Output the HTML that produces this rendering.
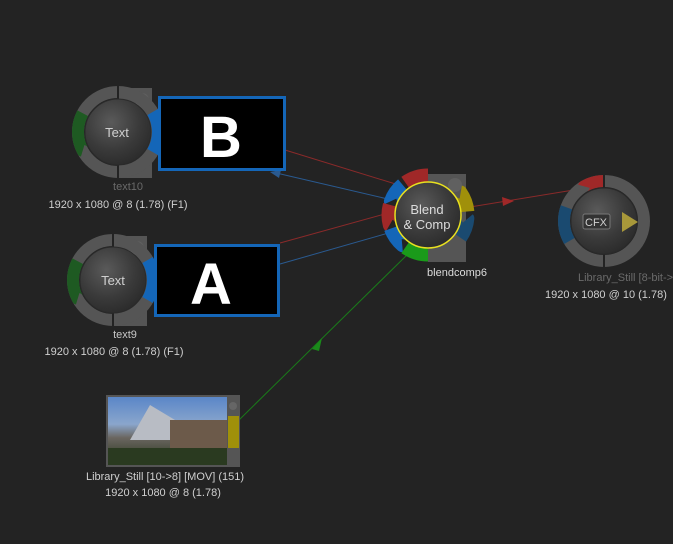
<!DOCTYPE html>
<html><head><style>
body{margin:0;background:#232323;}
svg{display:block;font-family:"Liberation Sans",sans-serif;}
</style></head><body>
<svg width="673" height="544" viewBox="0 0 673 544">
<defs>
<radialGradient id="ball" cx="0.4" cy="0.35" r="0.7">
<stop offset="0" stop-color="#5a5a5a"/><stop offset="0.6" stop-color="#3a3a3a"/><stop offset="1" stop-color="#2a2a2a"/>
</radialGradient>
<linearGradient id="img" x1="0" y1="0" x2="0" y2="1">
<stop offset="0" stop-color="#5a86c8"/><stop offset="0.4" stop-color="#8aa6cc"/><stop offset="0.6" stop-color="#6a6660"/><stop offset="1" stop-color="#243018"/>
</linearGradient>
</defs>
<rect width="673" height="544" fill="#232323"/>

<line x1="285" y1="150" x2="402" y2="186" stroke="#8a2a2a" stroke-width="1"/>
<line x1="392" y1="200" x2="272" y2="172" stroke="#2a5a90" stroke-width="1"/>
<polygon points="270,172 281,170 279,178" fill="#2a5a90"/>
<line x1="280" y1="243" x2="392" y2="212" stroke="#8a2a2a" stroke-width="1"/>
<line x1="280" y1="264" x2="392" y2="232" stroke="#2a5a90" stroke-width="1"/>
<line x1="239" y1="420" x2="410" y2="252" stroke="#1a7a1a" stroke-width="1"/>
<polygon points="322,338 312,349 319,351" fill="#1a8a1a"/>
<line x1="470" y1="207" x2="592" y2="187" stroke="#8a2a2a" stroke-width="1"/>
<polygon points="514,201 502,197 503,206" fill="#a02828"/>

<rect x="118" y="88" width="34" height="90" fill="#555"/>
<circle cx="142" cy="100" r="7" fill="#606060"/>
<g transform="translate(118,132)" fill="none" stroke-width="12">
<circle r="40" pathLength="360" stroke="#555" stroke-dasharray="360 0"/>
<circle r="40" pathLength="360" stroke="#1e5a22" stroke-dasharray="56 304" transform="rotate(152)"/>
<circle r="40" pathLength="360" stroke="#1466b8" stroke-dasharray="60 300" transform="rotate(-30)"/>
<line x1="0" y1="-47" x2="0" y2="-33" stroke="#232323" stroke-width="2"/>
<line x1="0" y1="47" x2="0" y2="33" stroke="#232323" stroke-width="2"/>
<circle r="33" fill="url(#ball)" stroke="#2a2a2a" stroke-width="1"/>
</g>
<text x="117" y="137" fill="#d0d0d0" font-size="13" text-anchor="middle">Text</text>
<rect x="159.5" y="97.5" width="125" height="72" fill="#000" stroke="#1466b8" stroke-width="3"/>
<text x="221" y="157" fill="#fff" font-size="58" font-weight="bold" text-anchor="middle">B</text>
<text x="128" y="190" fill="#6a6a6a" font-size="11" text-anchor="middle">text10</text>
<text x="118" y="208" fill="#cfcfcf" font-size="11" text-anchor="middle">1920 x 1080 @ 8 (1.78) (F1)</text>

<rect x="113" y="236" width="34" height="90" fill="#555"/>
<circle cx="137" cy="248" r="7" fill="#606060"/>
<g transform="translate(113,280)" fill="none" stroke-width="12">
<circle r="40" pathLength="360" stroke="#555" stroke-dasharray="360 0"/>
<circle r="40" pathLength="360" stroke="#1e5a22" stroke-dasharray="56 304" transform="rotate(152)"/>
<circle r="40" pathLength="360" stroke="#1466b8" stroke-dasharray="60 300" transform="rotate(-30)"/>
<line x1="0" y1="-47" x2="0" y2="-33" stroke="#232323" stroke-width="2"/>
<line x1="0" y1="47" x2="0" y2="33" stroke="#232323" stroke-width="2"/>
<circle r="33" fill="url(#ball)" stroke="#2a2a2a" stroke-width="1"/>
</g>
<text x="113" y="285" fill="#d0d0d0" font-size="13" text-anchor="middle">Text</text>
<rect x="155.5" y="245.5" width="123" height="70" fill="#000" stroke="#1466b8" stroke-width="3"/>
<text x="211" y="304" fill="#fff" font-size="58" font-weight="bold" text-anchor="middle">A</text>
<text x="125" y="338" fill="#c8c8c8" font-size="11" text-anchor="middle">text9</text>
<text x="114" y="355" fill="#cfcfcf" font-size="11" text-anchor="middle">1920 x 1080 @ 8 (1.78) (F1)</text>

<rect x="428" y="174" width="38" height="88" fill="#555"/>
<circle cx="455" cy="185" r="7" fill="#606060"/>
<g transform="translate(428,215)" fill="none" stroke-width="13">
<circle r="40" pathLength="360" stroke="#a02828" stroke-dasharray="35 325" transform="rotate(235)"/>
<circle r="40" pathLength="360" stroke="#1466b8" stroke-dasharray="30 330" transform="rotate(200)"/>
<circle r="40" pathLength="360" stroke="#a02828" stroke-dasharray="30 330" transform="rotate(165)"/>
<circle r="40" pathLength="360" stroke="#1466b8" stroke-dasharray="30 330" transform="rotate(130)"/>
<circle r="40" pathLength="360" stroke="#1a9a1a" stroke-dasharray="35 325" transform="rotate(90)"/>
<circle r="40" pathLength="360" stroke="#a0900a" stroke-dasharray="30 330" transform="rotate(-35)"/>
<circle r="40" pathLength="360" stroke="#1a4a70" stroke-dasharray="30 330" transform="rotate(5)"/>
<circle r="33" fill="url(#ball)" stroke="#e8e020" stroke-width="1.5"/>
</g>
<text x="427" y="214" fill="#dcdcdc" font-size="13" text-anchor="middle">Blend</text>
<text x="427" y="229" fill="#dcdcdc" font-size="13" text-anchor="middle">&amp; Comp</text>
<text x="457" y="276" fill="#dcdcdc" font-size="11" text-anchor="middle">blendcomp6</text>

<g transform="translate(604,221)" fill="none" stroke-width="12">
<circle r="40" pathLength="360" stroke="#555" stroke-dasharray="360 0"/>
<circle r="40" pathLength="360" stroke="#a02828" stroke-dasharray="30 330" transform="rotate(240)"/>
<circle r="40" pathLength="360" stroke="#1a4a70" stroke-dasharray="50 310" transform="rotate(150)"/>
<line x1="0" y1="-47" x2="0" y2="-33" stroke="#232323" stroke-width="2"/>
<line x1="0" y1="47" x2="0" y2="33" stroke="#232323" stroke-width="2"/>
<circle r="33" fill="url(#ball)" stroke="#2a2a2a" stroke-width="1"/>
</g>
<rect x="583" y="214" width="27" height="15" rx="2" fill="#333" stroke="#777" stroke-width="1"/>
<text x="596" y="226" fill="#cfcfcf" font-size="11" text-anchor="middle">CFX</text>
<polygon points="622,212 622,232 638,222" fill="#a8983a"/>
<text x="578" y="281" fill="#6a6a6a" font-size="11">Library_Still [8-bit-&gt;</text>
<text x="545" y="298" fill="#cfcfcf" font-size="11">1920 x 1080 @ 10 (1.78)</text>

<rect x="106" y="395" width="134" height="72" fill="#555"/>
<rect x="108" y="397" width="119" height="68" fill="url(#img)"/>
<polygon points="130,440 150,405 175,420 180,440" fill="#b8bcc4"/>
<rect x="170" y="420" width="57" height="28" fill="#6c5a4a"/>
<rect x="108" y="448" width="119" height="17" fill="#2a3a20"/>
<rect x="228" y="416" width="11" height="32" fill="#a0900a"/>
<circle cx="233" cy="406" r="4" fill="#666"/>
<text x="165" y="480" fill="#cfcfcf" font-size="11" text-anchor="middle">Library_Still [10-&gt;8] [MOV] (151)</text>
<text x="163" y="496" fill="#cfcfcf" font-size="11" text-anchor="middle">1920 x 1080 @ 8 (1.78)</text>
</svg>
</body></html>
